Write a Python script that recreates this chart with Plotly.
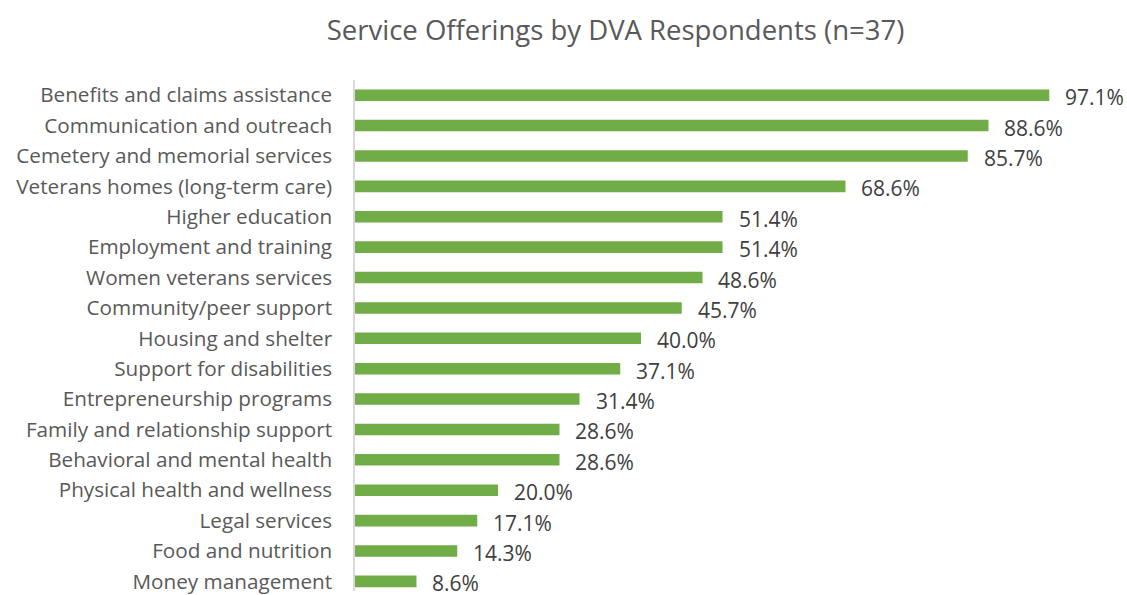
import plotly.graph_objects as go

categories = [
    "Benefits and claims assistance",
    "Communication and outreach",
    "Cemetery and memorial services",
    "Veterans homes (long-term care)",
    "Higher education",
    "Employment and training",
    "Women veterans services",
    "Community/peer support",
    "Housing and shelter",
    "Support for disabilities",
    "Entrepreneurship programs",
    "Family and relationship support",
    "Behavioral and mental health",
    "Physical health and wellness",
    "Legal services",
    "Food and nutrition",
    "Money management",
]
values = [97.1, 88.6, 85.7, 68.6, 51.4, 51.4, 48.6, 45.7, 40.0, 37.1, 31.4, 28.6, 28.6, 20.0, 17.1, 14.3, 8.6]
value_labels = [f"{v:.1f}%" for v in values]

FONT = "'Open Sans', sans-serif"

fig = go.Figure()
fig.add_trace(go.Bar(
    x=values, y=categories, orientation="h",
    marker=dict(color="#70AD47", line=dict(width=0)),
    width=0.38, cliponaxis=False, hoverinfo="x+y",
))

for v, c, t in zip(values, categories, value_labels):
    fig.add_annotation(x=v, y=c, text=t, showarrow=False, xanchor="left",
                       xshift=14, yshift=-2, font=dict(family=FONT, size=21, color="#404040"))

fig.update_layout(
    width=1127, height=595,
    margin=dict(l=355, r=57, t=80, b=0),
    paper_bgcolor="white", plot_bgcolor="white",
    title=dict(text="Service Offerings by DVA Respondents (n=37)", x=615.5 / 1127, xanchor="center",
               y=1 - 30 / 595, yanchor="middle",
               font=dict(family=FONT, size=27.5, color="#595959")),
    showlegend=False,
    xaxis=dict(range=[0, 100], visible=False, fixedrange=True),
    yaxis=dict(type="category", categoryorder="array", categoryarray=categories,
               range=[16.316, -0.5], showgrid=False, zeroline=False, fixedrange=True,
               showline=True, linecolor="#D9D9D9", linewidth=1.5,
               ticks="", ticklabelstandoff=17,
               tickfont=dict(family=FONT, size=20.7, color="#595959")),
)

fig.write_html("out.html", config={"displayModeBar": False},
               post_script="document.body.style.margin='0';document.body.style.padding='0';")
